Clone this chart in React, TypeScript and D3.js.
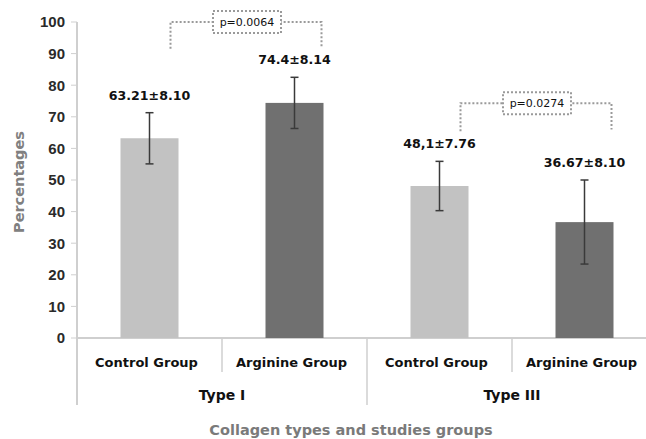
import React from 'react';
import { scaleBand, scaleLinear } from 'd3';

// data
const groups = ['Control Group', 'Arginine Group', 'Control Group', 'Arginine Group'];
const types = ['Type I', 'Type III'];
const means = [63.21, 74.4, 48.1, 36.67];
const errLow = [55.1, 66.3, 40.3, 23.4];
const errHigh = [71.3, 82.5, 55.9, 50.0];
const valueLabels = ['63.21±8.10', '74.4±8.14', '48,1±7.76', '36.67±8.10'];
const barColors = ['#c2c2c2', '#707070', '#c2c2c2', '#707070'];
const yTicks = [0, 10, 20, 30, 40, 50, 60, 70, 80, 90, 100];
// significance: [left bar, right bar, label, left end value, right end value, top value]
const pvalues = [
  { from: 0, to: 1, label: 'p=0.0064', leftEnd: 91.5, rightEnd: 92.3, top: 100 },
  { from: 2, to: 3, label: 'p=0.0274', leftEnd: 65.4, rightEnd: 66, top: 74.3 },
];

const App = () => {
  const width = 646;
  const height = 439;
  const x0 = 77;
  const yScale = scaleLinear().domain([0, 100]).range([338, 22]);
  const xScale = scaleBand()
    .domain(groups.map((d, i) => String(i)))
    .range([x0, x0 + 580])
    .paddingInner(0.6)
    .paddingOuter(0.3);
  const band = 145;
  const bw = xScale.bandwidth();
  const cx = i => (xScale(String(i)) as number) + bw / 2;
  const gridColor = '#cfcfcf';
  const sans = 'DejaVu Sans, sans-serif';

  return (
    <svg width={width} height={height} style={{ position: 'absolute', left: 0, top: 0 }}>
      <rect width={width} height={height} fill="#fff" />
      {/* y axis */}
      <line x1={x0} x2={x0} y1={yScale(100)} y2={405} stroke={gridColor} strokeWidth={2} />
      {yTicks.map(t => (
        <g key={t}>
          <line x1={x0 - 6} x2={x0} y1={yScale(t)} y2={yScale(t)} stroke={gridColor} strokeWidth={1} />
          <text
            x={x0 - 12}
            y={yScale(t)}
            dy="0.36em"
            textAnchor="end"
            fontFamily="Liberation Sans, Arial, sans-serif"
            fontWeight="bold"
            fontSize={15}
            fill="#2a2a2a">
            {t}
          </text>
        </g>
      ))}
      <text
        transform={`translate(24,182) rotate(-90)`}
        textAnchor="middle"
        fontFamily={sans}
        fontWeight="bold"
        fontSize={14.5}
        fill="#808080">
        Percentages
      </text>

      {/* x axis */}
      <line x1={x0} x2={width} y1={yScale(0)} y2={yScale(0)} stroke={gridColor} strokeWidth={2} />
      {[1, 2, 3].map(k => (
        <line
          key={k}
          x1={x0 + k * band}
          x2={x0 + k * band}
          y1={yScale(0)}
          y2={k === 2 ? 405 : 372}
          stroke={gridColor}
          strokeWidth={1.5}
        />
      ))}

      {/* bars */}
      {means.map((m, i) => (
        <g key={i}>
          <rect
            x={xScale(String(i))}
            y={yScale(m)}
            width={bw}
            height={yScale(0) - yScale(m)}
            fill={barColors[i]}
          />
          <line x1={cx(i)} x2={cx(i)} y1={yScale(errHigh[i])} y2={yScale(errLow[i])} stroke="#3a3a3a" strokeWidth={1.5} />
          <line x1={cx(i) - 4} x2={cx(i) + 4} y1={yScale(errHigh[i])} y2={yScale(errHigh[i])} stroke="#3a3a3a" strokeWidth={1.5} />
          <line x1={cx(i) - 4} x2={cx(i) + 4} y1={yScale(errLow[i])} y2={yScale(errLow[i])} stroke="#3a3a3a" strokeWidth={1.5} />
          <text
            x={cx(i)}
            y={yScale(errHigh[i]) - 13}
            textAnchor="middle"
            fontFamily={sans}
            fontWeight="bold"
            fontSize={12.6}
            fill="#111">
            {valueLabels[i]}
          </text>
          <text
            x={x0 + band * i + band / 2 - 3}
            y={367}
            textAnchor="middle"
            fontFamily={sans}
            fontWeight="bold"
            fontSize={13}
            fill="#111">
            {groups[i]}
          </text>
        </g>
      ))}

      {types.map((t, k) => (
        <text
          key={t}
          x={x0 + band * 2 * k + band}
          y={400}
          textAnchor="middle"
          fontFamily={sans}
          fontWeight="bold"
          fontSize={14}
          fill="#111">
          {t}
        </text>
      ))}

      <text x={351} y={435} textAnchor="middle" fontFamily={sans} fontWeight="bold" fontSize={14.5} fill="#7a7a7a">
        Collagen types and studies groups
      </text>

      {/* significance brackets */}
      {pvalues.map(p => {
        const xl = cx(p.from) + 21;
        const xr = cx(p.to) + 27;
        const yt = yScale(p.top);
        const xm = (xl + xr) / 2 + 1;
        return (
          <g key={p.label} stroke="#9a9a9a" strokeWidth={2} strokeDasharray="2,2" fill="none">
            <polyline points={`${xl},${yScale(p.leftEnd)} ${xl},${yt} ${xr},${yt} ${xr},${yScale(p.rightEnd)}`} />
            <rect x={xm - 34} y={yt - 11} width={68} height={22} fill="#fff" />
            <text
              x={xm}
              y={yt}
              dy="0.35em"
              textAnchor="middle"
              fontFamily={sans}
              fontSize={11}
              fill="#111"
              stroke="none">
              {p.label}
            </text>
          </g>
        );
      })}
    </svg>
  );
};

export default App;
